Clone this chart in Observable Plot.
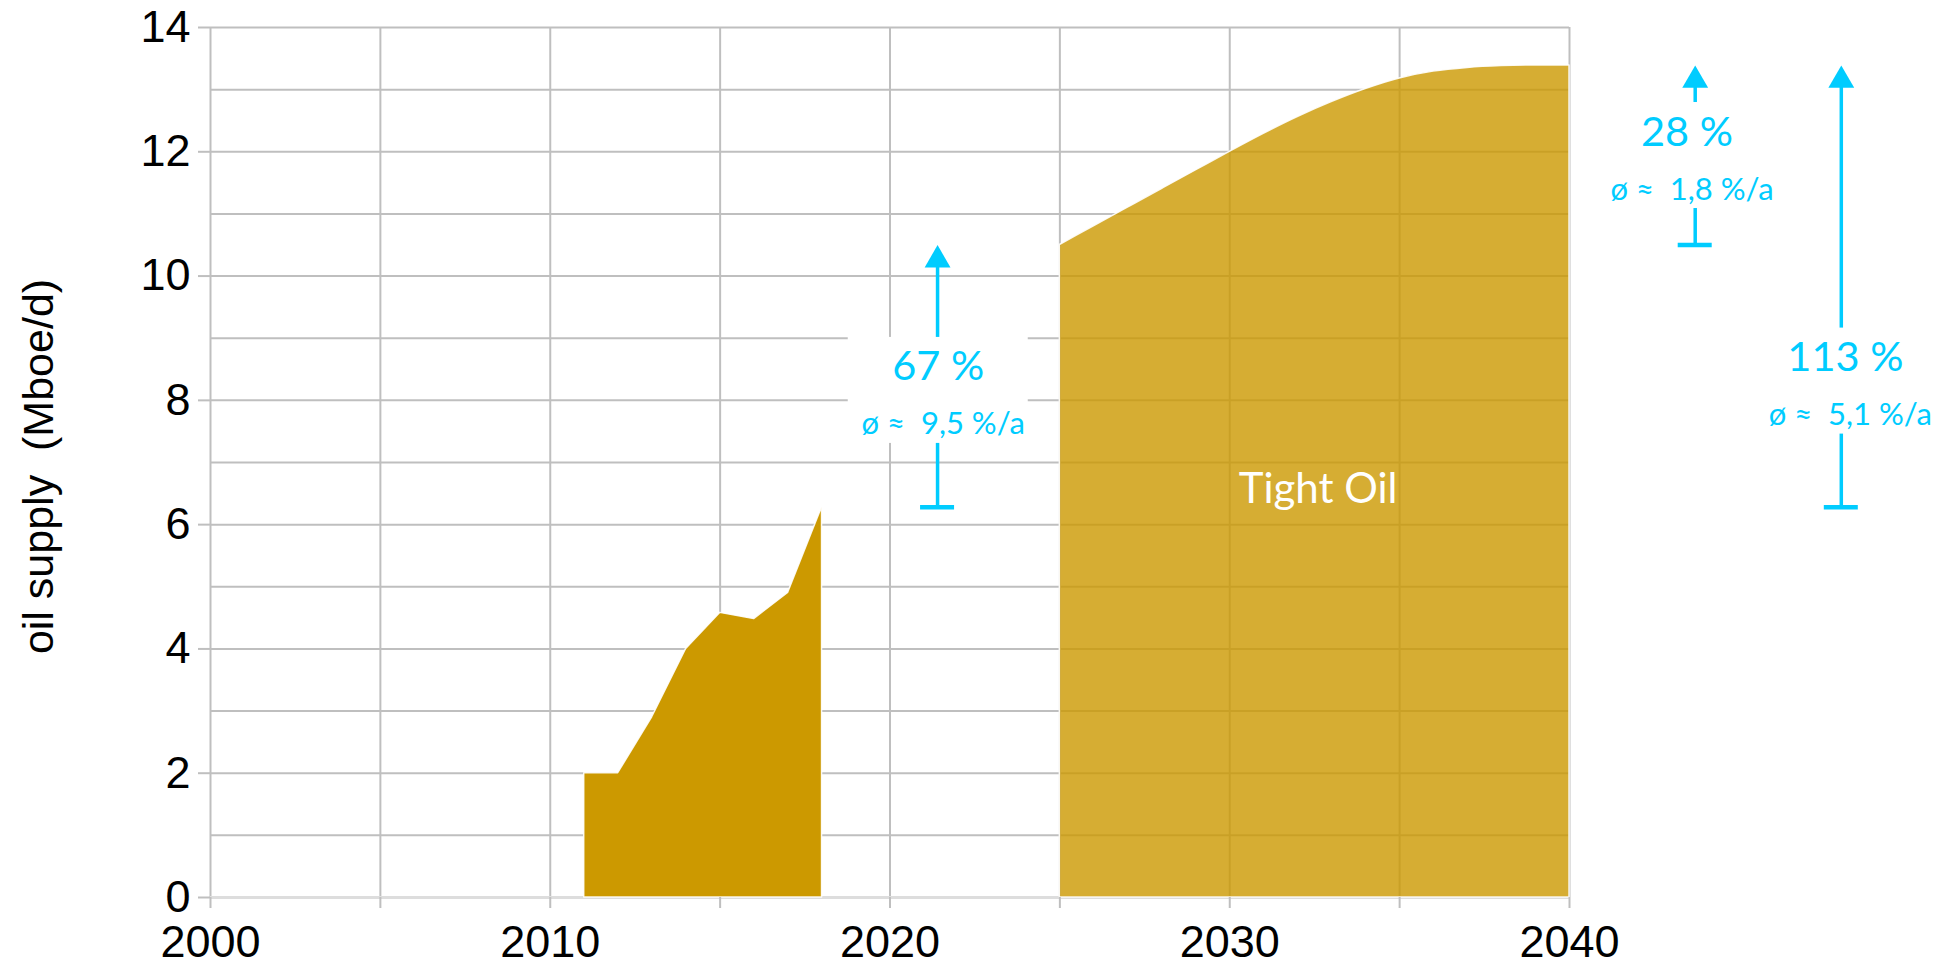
<!DOCTYPE html>
<html>
<head>
<meta charset="utf-8">
<script src="https://cdn.jsdelivr.net/npm/d3@7"></script>
<script src="https://cdn.jsdelivr.net/npm/@observablehq/plot@0.6"></script>
<style>
  html, body { margin: 0; padding: 0; background: #fff; }
  svg { display: block; }
</style>
</head>
<body>
<div id="chart"></div>
<script>
// Tight oil supply, Mboe/d: recorded years and the projection to 2040
const histYears = [2011, 2012, 2013, 2014, 2015, 2016, 2017, 2018];
const histSupply = [2.0, 2.0, 2.9, 4.0, 4.58, 4.48, 4.9, 6.28];

const projYears = [2025, 2026, 2027, 2028, 2029, 2030, 2031, 2032, 2033, 2034, 2035, 2036, 2037, 2038, 2039, 2040];
const projSupply = [10.5, 10.8, 11.1, 11.4, 11.7, 12.0, 12.29, 12.56, 12.8, 13.01, 13.18, 13.29, 13.35, 13.38, 13.39, 13.39];

// Growth annotations: total increase and average yearly rate
const growthLabels = ["67 %", "28 %", "113 %"];
const growthRates = ["ø ≈\u00a0 9,5 %/a", "ø ≈\u00a0 1,8 %/a", "ø ≈\u00a0 5,1 %/a"];

// Axis ticks
const xTickValues = [2000, 2005, 2010, 2015, 2020, 2025, 2030, 2035, 2040];
const xTickLabels = [2000, 2010, 2020, 2030, 2040];
const yTickValues = [0, 2, 4, 6, 8, 10, 12, 14];
const yGridValues = [1, 2, 3, 4, 5, 6, 7, 8, 9, 10, 11, 12, 13, 14];

const yAxisTitle = "oil supply\u00a0 (Mboe/d)";
const areaLabel = "Tight Oil";

const cyan = "#00CCFF";
const gold = "#CC9900";
const gridColor = "#BFBFBF";

const hist = histYears.map((year, i) => ({year, value: histSupply[i]}));
const proj = projYears.map((year, i) => ({year, value: projSupply[i]}));

const lastHist = histSupply[histSupply.length - 1];
const firstProj = projSupply[0];
const lastProj = projSupply[projSupply.length - 1];

// Each arrow runs from a start level to an end level;
// x places the arrow, labelX / mid place its label box
const arrows = [
  {x: 2021.4, labelX: 2021.42, mid: 8.16, from: lastHist, to: firstProj, label: growthLabels[0], rate: growthRates[0]},
  {x: 2043.7, labelX: 2043.46, mid: 11.94, from: firstProj, to: lastProj, label: growthLabels[1], rate: growthRates[1]},
  {x: 2048.0, labelX: 2048.12, mid: 8.31, from: lastHist, to: lastProj, label: growthLabels[2], rate: growthRates[2]}
];

const chart = Plot.plot({
  width: 1957,
  height: 963,
  marginLeft: 210,
  marginRight: 388,
  marginTop: 27,
  marginBottom: 66,
  style: {fontFamily: "'Liberation Sans', Arial, sans-serif", background: "white", color: "black"},
  x: {domain: [2000, 2040], label: null},
  y: {domain: [0, 14], label: null},
  marks: [
    Plot.gridX({ticks: xTickValues, stroke: gridColor, strokeOpacity: 1, strokeWidth: 2}),
    Plot.gridY({ticks: yGridValues, stroke: gridColor, strokeOpacity: 1, strokeWidth: 2}),
    Plot.ruleY([0], {stroke: "#DDDDDD", strokeWidth: 3}),

    Plot.areaY(hist, {x: "year", y: "value", fill: gold, stroke: "white", strokeWidth: 1.5, strokeOpacity: 0.9}),
    Plot.areaY(proj, {x: "year", y: "value", curve: "monotone-x", fill: gold, fillOpacity: 0.8, stroke: "white", strokeWidth: 1.5, strokeOpacity: 0.9}),

    Plot.axisX({
      ticks: xTickValues,
      tickFormat: d => xTickLabels.includes(d) ? String(d) : "",
      tickSize: 11, tickPadding: 17, fontSize: 45,
      stroke: gridColor, strokeWidth: 2, label: null
    }),
    Plot.axisY({
      ticks: yTickValues,
      tickSize: 12, tickPadding: 8, fontSize: 45,
      stroke: gridColor, strokeWidth: 2, label: null
    }),

    Plot.text([yAxisTitle], {frameAnchor: "left", textAnchor: "middle", rotate: -90, dx: -171, dy: 4, fontSize: 43, fill: "black"}),
    Plot.text([areaLabel], {x: 2032.6, y: 6.35, lineAnchor: "bottom", fill: "white", fontSize: 42, fontFamily: "Lato"}),

    // arrow shafts, label boxes, heads and base bars
    Plot.ruleX(arrows, {x: "x", y1: "to", y2: "from", insetTop: 18, stroke: cyan, strokeWidth: 3.5}),
    Plot.rect(arrows, {x1: "labelX", x2: "labelX", y1: "mid", y2: "mid", fill: "white", insetLeft: -90, insetRight: -90, insetTop: -53, insetBottom: -53}),
    Plot.dot(arrows, {x: "x", y: "to", symbol: "triangle", r: 9.6, fill: cyan, dy: 15}),
    Plot.ruleY(arrows, {y: "from", x1: "x", x2: "x", insetLeft: -17, insetRight: -17, stroke: cyan, strokeWidth: 4.5}),
    Plot.text(arrows, {x: "labelX", y: "mid", text: "label", lineAnchor: "bottom", dy: -10, fill: cyan, fontSize: 41.5, fontFamily: "Lato"}),
    Plot.text(arrows, {x: "labelX", y: "mid", text: "rate", lineAnchor: "bottom", dy: 44, dx: 5, fill: cyan, fontSize: 31, fontFamily: "Lato"})
  ]
});

document.getElementById("chart").appendChild(chart);
</script>
</body>
</html>
